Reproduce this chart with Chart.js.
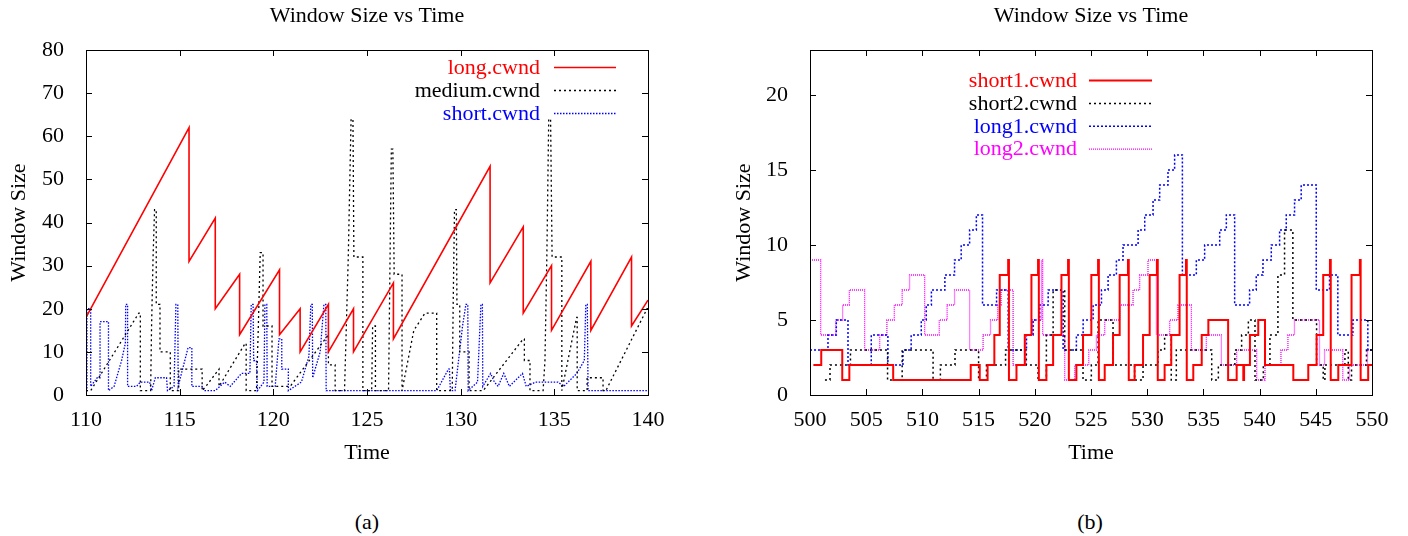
<!DOCTYPE html>
<html>
<head>
<meta charset="utf-8">
<script src="https://cdn.jsdelivr.net/npm/chart.js@4.4.0/dist/chart.umd.min.js"></script>
<style>
  body { margin: 0; background: #fff; width: 1408px; height: 536px; overflow: hidden; position: relative; font-family: "Liberation Serif", "Times New Roman", serif; }
  canvas { position: absolute; top: 0; }
  #c1 { left: 0; }
  #c2 { left: 720px; }
  .cap { position: absolute; top: 509px; width: 100px; text-align: center; font-size: 22px; line-height: 25px; }
</style>
</head>
<body>
<canvas id="c1" width="700" height="475"></canvas>
<canvas id="c2" width="688" height="475"></canvas>
<div class="cap" style="left:317px">(a)</div>
<div class="cap" style="left:1040px">(b)</div>
<script>
// ---- panel (a): [time, cwnd] corners
var longCwnd = [[110,18],[115.5,62],[115.5,31],[116.9,41],[116.9,20],[118.2,28],[118.2,14],[120.33,29],[120.33,14],
  [121.43,20],[121.43,10],[122.94,21],[122.94,10],[124.28,20],[124.28,10],[126.41,26],[126.41,13],[131.57,53],
  [131.57,26],[133.34,39],[133.34,19],[134.85,30],[134.85,15],[136.95,31],[136.95,15],[139.12,32],[139.12,16],[140,22]];

var mediumCwnd = [[110,1],[110.25,1],[112.82,19],[112.9,19],[112.9,1],[113.45,1],[113.5,16],[113.58,32],[113.66,43],
  [113.75,43],[113.75,21],[113.95,21],[113.95,10],[114.5,10],[114.5,1],[114.95,1],[114.95,6],[116.2,6],[116.2,1],
  [116.4,2],[117.1,6],[117.1,2],[118.5,12],[118.55,12],[118.55,1],[119.1,1],[119.2,16],[119.3,33],[119.45,33],
  [119.45,16],[119.93,16],[119.93,2],[120.9,2],[122.94,14],[122.94,7],[123.3,7],[123.3,1],[123.8,1],[124.0,32],
  [124.15,64],[124.25,64],[124.3,32],[124.78,32],[124.78,1],[125.25,1],[125.3,16],[125.45,16],[125.45,1],
  [126.15,1],[126.22,28],[126.3,57],[126.38,57],[126.45,28],[126.87,28],[126.87,1],[127.5,15],[128.1,19],
  [128.72,19],[128.72,1],[129.55,1],[129.6,21],[129.67,43],[129.77,43],[129.8,21],[129.95,21],[129.95,10],
  [130.45,10],[130.45,1],[131.2,1],[133.34,13],[133.4,13],[133.4,8],[133.7,8],[133.7,1],[134.4,1],[134.5,8],
  [134.6,32],[134.7,64],[134.8,64],[134.88,32],[135.4,32],[135.4,1],[136.19,18],[136.22,18],[136.22,1],
  [136.75,1],[136.75,4],[137.6,4],[137.6,1],[137.75,1],[139.95,20],[140,20]];

var shortCwnd = [[110,1],[110.05,1],[110.05,20],[110.25,20],[110.25,2],[110.6,4],[110.75,4],[110.75,17],[111.2,17],
  [111.2,1],[111.5,2],[111.9,8],[112.1,12],[112.12,21],[112.22,21],[112.22,2],[112.7,2],[112.9,3],[113.4,3],
  [113.5,1],[113.7,4],[114.3,4],[114.35,1],[114.7,2],[114.8,21],[114.9,21],[114.92,2],[115.45,11],[115.65,11],
  [115.65,2],[116.2,2],[116.3,1],[116.9,1],[117.4,3],[117.7,2],[118.3,5],[118.75,5],[118.82,21],[118.92,21],
  [118.95,8],[119.1,8],[119.15,1],[119.5,3],[119.55,21],[119.65,21],[119.67,2],[120.1,2],[120.3,13],[120.45,13],
  [120.45,6],[120.8,6],[120.8,1],[121.5,3],[121.9,9],[122.0,21],[122.08,21],[122.1,4],[122.5,10],[122.7,21],
  [122.8,21],[122.82,1],[128.72,1],[129.35,6],[129.4,6],[129.45,1],[129.7,1],[130.1,16],[130.28,21],[130.38,21],
  [130.4,1],[130.9,3],[131.08,21],[131.16,21],[131.18,2],[131.6,5],[131.8,3],[132.0,2],[132.3,5],[132.6,2],
  [133.3,5],[133.5,2],[134.0,3],[135.2,3],[135.5,2],[136.2,5],[136.6,8],[136.68,21],[136.76,21],[136.8,1],[140,1]];

var xTicksA = [110, 115, 120, 125, 130, 135, 140];
var yTicksA = [0, 10, 20, 30, 40, 50, 60, 70, 80];

// ---- panel (b): [time, new cwnd] at each step
var short1Cwnd = [[500.3,2],[501.0,3],[502.87,1],[503.5,2],[507.4,1],[514.3,2],[515.1,1],[515.8,2],[516.4,4],
  [516.88,8],[517.63,9],[517.7,1],[518.37,2],[519.11,4],[519.7,8],[520.29,9],[520.36,1],[521.03,2],[521.63,4],
  [522.37,8],[522.96,9],[523.03,1],[523.7,2],[524.29,4],[525.03,8],[525.63,9],[525.7,1],[526.22,2],[526.96,4],
  [527.55,8],[528.29,9],[528.36,1],[528.88,2],[529.63,4],[530.22,8],[530.87,9],[530.94,1],[531.55,2],[532.14,4],
  [532.88,8],[533.45,9],[533.52,1],[534.1,2],[534.85,4],[535.44,5],[537.2,1],[537.96,2],[538.55,1],[538.62,2],
  [539.14,4],[539.88,5],[540.48,2],[543.0,1],[544.33,2],[545.07,4],[545.66,8],[546.26,9],[546.33,1],[547.0,2],
  [548.18,8],[548.92,9],[548.99,1],[549.66,2],[550,2]];

var short2Cwnd = [[501.33,1],[501.78,2],[503.6,3],[506.9,1],[508.2,3],[510.95,1],[511.6,2],[512.9,3],[515.0,1],
  [515.7,2],[517.4,3],[519.25,2],[520.29,1],[521.03,4],[521.63,7],[522.66,3],[524.29,1],[525.03,2],[525.63,5],
  [526.96,2],[528.88,1],[529.63,2],[530.96,3],[531.55,4],[532.14,1],[532.59,3],[535.74,1],[536.33,2],[537.8,3],
  [538.4,4],[539.0,5],[539.59,1],[540.33,2],[540.92,4],[541.63,8],[542.22,11],[542.96,5],[545.07,2],[545.66,1],
  [545.81,2],[547.59,3],[547.89,1],[548.18,2],[549.51,3],[550,3]];

var long1Cwnd = [[500,3],[501.6,4],[502.34,5],[503.38,2],[505.45,4],[506.93,2],[508.27,3],[509.0,4],[509.9,5],
  [510.34,6],[510.8,7],[512.0,8],[512.86,9],[513.45,10],[514.2,11],[514.8,12],[515.35,6],[516.6,7],[517.63,3],
  [519.26,4],[519.85,5],[520.44,6],[521.19,7],[522.52,3],[523.7,4],[524.3,5],[525.19,6],[525.93,7],[526.52,8],
  [527.26,9],[527.85,10],[529.19,11],[529.78,12],[530.52,13],[531.11,14],[531.85,15],[532.44,16],[533.13,8],
  [534.37,9],[535.11,10],[536.45,11],[537.04,12],[537.78,6],[539.11,7],[539.7,8],[540.3,9],[541.04,10],
  [541.78,11],[542.37,12],[543.11,13],[543.7,14],[545.04,7],[546.22,8],[546.96,4],[548.3,5],[549.63,3],[550,3]];

var long2Cwnd = [[500,9],[500.95,4],[502.3,5],[502.9,6],[503.5,7],[504.86,3],[506.2,4],[506.84,5],[507.5,6],
  [508.2,7],[508.86,8],[510.2,4],[511.5,5],[512.2,6],[512.86,7],[514.2,3],[515.4,4],[516.06,5],[516.7,6],
  [517.0,7],[518.07,2],[519.2,4],[519.8,5],[520.6,9],[520.7,4],[522.66,1],[523.55,2],[524.8,3],[525.48,4],
  [526.22,5],[527.56,6],[528.74,7],[529.33,8],[530.07,9],[530.82,4],[532.0,5],[532.74,6],[533.93,3],[535.26,4],
  [536.6,2],[537.96,3],[539.74,1],[540.48,2],[541.9,3],[542.52,4],[543.1,5],[545.33,2],[545.78,3],[547.4,1],
  [548.0,2],[549.6,3],[550,3]];

var xTicksB = [500, 505, 510, 515, 520, 525, 530, 535, 540, 545, 550];
var yTicksB = [0, 5, 10, 15, 20];

Chart.defaults.font.family = '"Liberation Serif", "Times New Roman", serif';
Chart.defaults.font.size = 22;
Chart.defaults.color = '#000';

function pts(arr) {
  return arr.map(function (p) { return { x: p[0], y: p[1] }; });
}

// gnuplot-style frame, inward ticks and in-plot key
var gnuplot = {
  id: 'gnuplot',
  afterDraw: function (chart, args, opts) {
    var ctx = chart.ctx, a = chart.chartArea, sx = chart.scales.x, sy = chart.scales.y;
    ctx.save();
    ctx.strokeStyle = '#000';
    ctx.lineWidth = 1;
    ctx.setLineDash([]);
    ctx.beginPath();
    sx.ticks.forEach(function (t) {
      var px = Math.round(sx.getPixelForValue(t.value)) + 0.5;
      ctx.moveTo(px, a.bottom); ctx.lineTo(px, a.bottom - 6);
      ctx.moveTo(px, a.top); ctx.lineTo(px, a.top + 6);
    });
    sy.ticks.forEach(function (t) {
      var py = Math.round(sy.getPixelForValue(t.value)) + 0.5;
      ctx.moveTo(a.left, py); ctx.lineTo(a.left + 6, py);
      ctx.moveTo(a.right, py); ctx.lineTo(a.right - 6, py);
    });
    ctx.stroke();
    ctx.strokeRect(Math.round(a.left) + 0.5, Math.round(a.top) + 0.5,
                   Math.round(a.right - a.left), Math.round(a.bottom - a.top));

    ctx.font = '22px "Liberation Serif"';
    ctx.textAlign = 'right';
    ctx.textBaseline = 'middle';
    chart.data.datasets.forEach(function (ds, i) {
      var y = opts.top + i * opts.row;
      ctx.fillStyle = ds.borderColor;
      ctx.fillText(ds.label, opts.textRight, y + 1);
      ctx.strokeStyle = ds.borderColor;
      ctx.lineWidth = ds.borderWidth;
      ctx.setLineDash(ds.borderDash || []);
      ctx.beginPath();
      ctx.moveTo(opts.lineStart, y + 0.5);
      ctx.lineTo(opts.lineEnd, y + 0.5);
      ctx.stroke();
    });
    ctx.restore();
  }
};

function makeChart(id, datasets, cfg) {
  return new Chart(document.getElementById(id), {
    type: 'line',
    data: { datasets: datasets },
    plugins: [gnuplot],
    options: {
      responsive: false,
      animation: false,
      layout: { padding: { right: cfg.padRight } },
      elements: { point: { radius: 0 }, line: { tension: 0, borderCapStyle: 'butt', borderJoinStyle: 'miter' } },
      plugins: {
        legend: { display: false },
        tooltip: { enabled: false },
        title: {
          display: true, text: 'Window Size vs Time', fullSize: false, color: '#000',
          font: { size: 22, weight: 'normal' }, padding: { top: 3, bottom: 20.6 }
        },
        gnuplot: cfg.key
      },
      scales: {
        x: {
          type: 'linear', min: cfg.xMin, max: cfg.xMax,
          grid: { display: false }, border: { display: false },
          ticks: { padding: 4, autoSkip: false, maxRotation: 0, color: '#000' },
          afterBuildTicks: function (s) { s.ticks = cfg.xTicks.map(function (v) { return { value: v }; }); },
          afterFit: function (s) { s.height = 80; },
          title: { display: true, text: 'Time', color: '#000', font: { size: 22 }, padding: { top: 0, bottom: 9 } }
        },
        y: {
          min: 0, max: cfg.yMax,
          grid: { display: false }, border: { display: false },
          ticks: { padding: 14, color: '#000' },
          afterBuildTicks: function (s) { s.ticks = cfg.yTicks.map(function (v) { return { value: v }; }); },
          afterFit: function (s) { s.width = cfg.yWidth; },
          title: { display: true, text: 'Window Size', color: '#000', font: { size: 22 }, padding: { top: cfg.yTitlePad, bottom: 0 } }
        }
      }
    }
  });
}

makeChart('c1', [
  { label: 'long.cwnd', data: pts(longCwnd), borderColor: '#ff0000', borderWidth: 1.6 },
  { label: 'medium.cwnd', data: pts(mediumCwnd), borderColor: '#000000', borderWidth: 1.3, borderDash: [2, 3] },
  { label: 'short.cwnd', data: pts(shortCwnd), borderColor: '#0000ff', borderWidth: 1.3, borderDash: [1.5, 1.5] }
], {
  xMin: 110, xMax: 140, yMax: 80, xTicks: xTicksA, yTicks: yTicksA,
  padRight: 52, yWidth: 86, yTitlePad: 6,
  key: { top: 67, row: 23, textRight: 540, lineStart: 554, lineEnd: 616 }
});

makeChart('c2', [
  { label: 'short1.cwnd', data: pts(short1Cwnd), borderColor: '#ff0000', borderWidth: 2, stepped: true },
  { label: 'short2.cwnd', data: pts(short2Cwnd), borderColor: '#000000', borderWidth: 1.5, borderDash: [2, 3], stepped: true },
  { label: 'long1.cwnd', data: pts(long1Cwnd), borderColor: '#0000ff', borderWidth: 1.5, borderDash: [2, 2], stepped: true },
  { label: 'long2.cwnd', data: pts(long2Cwnd), borderColor: '#ff00ff', borderWidth: 1.3, borderDash: [1, 1], stepped: true }
], {
  xMin: 500, xMax: 550, yMax: 23, xTicks: xTicksB, yTicks: yTicksB,
  padRight: 36, yWidth: 90, yTitlePad: 11,
  key: { top: 80, row: 22.9, textRight: 357, lineStart: 369, lineEnd: 432 }
});
</script>
</body>
</html>
